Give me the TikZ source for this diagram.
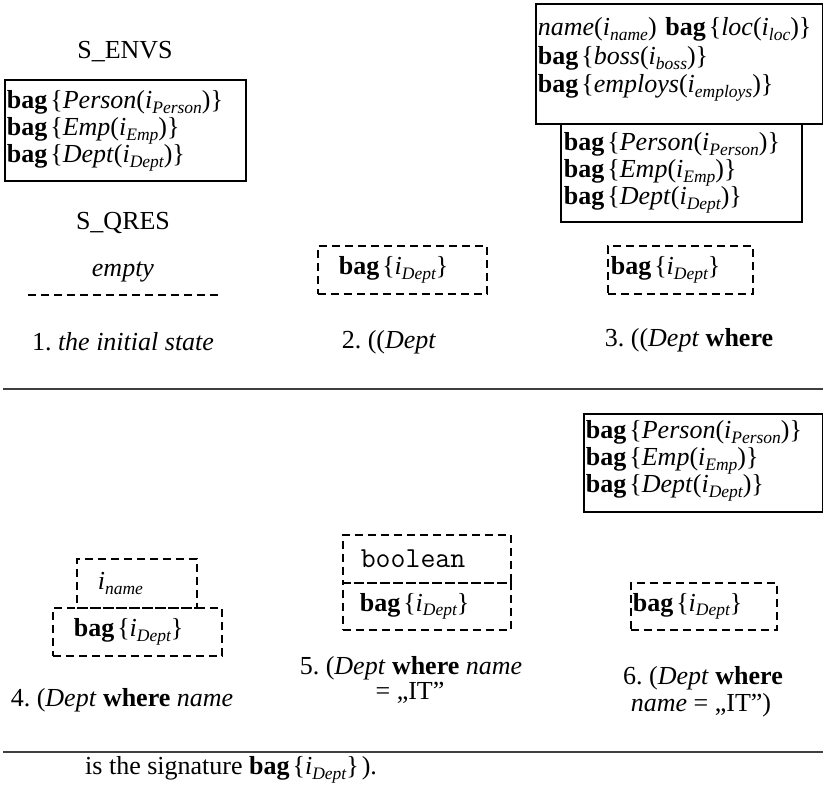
\documentclass[tikz,border=0pt]{standalone}
\usepackage{fontspec}
\setmainfont{Liberation Serif}
\frenchspacing
\newcommand\sbs[1]{\raisebox{-0.18em}{\fontsize{17.5}{17.5}\selectfont\itshape #1}}
\newcommand\ibag[1]{\textbf{bag}\kern3pt\{\textit{#1}(\textit{i}\sbs{#1})\}}
\newcommand\iD{\textbf{bag}\kern3pt\{\textit{i}\sbs{Dept}\}}
\begin{document}
\begin{tikzpicture}[x=1pt,y=-1pt,
  every node/.style={font=\fontsize{26}{27}\selectfont},
  solidbox/.style={draw,line width=1.8pt,anchor=north west,align=left,inner ysep=0pt},
  dbox/.style={draw,line width=1.6pt,dash pattern=on 8pt off 5pt,anchor=north west,align=left,inner ysep=0pt},
  lbl/.style={inner sep=0pt,anchor=center},
  sep/.style={draw=black!75,line width=1.5pt}]
\useasboundingbox (0,0) rectangle (823,789);
\fill[white] (0,0) rectangle (823,789);
% column 1
\node[lbl] (envs) at (125,52) {S\_ENVS};
\node[solidbox,inner xsep=2pt,text width=237pt,text height=29pt,text depth=72pt] (b1) at (4,79)
  {\ibag{Person}\\ \ibag{Emp}\\ \ibag{Dept}};
\node[lbl] (qres) at (123,223) {S\_QRES};
\node[lbl] (empty) at (123,272) {\textit{empty}};
\coordinate (el) at (28,295);
\coordinate (er) at (222,295);
\draw[line width=1.6pt,dash pattern=on 8pt off 5pt] (el) -- (er);
\node[lbl] (c1) at (123,342) {1. \textit{the initial state}};
% column 2
\node[dbox,inner xsep=21pt,text width=127pt,minimum height=48pt] (b2) at (317,245) {\iD};
\node[lbl] (c2) at (389,342) {2. ((\textit{Dept}};
% column 3
\node[solidbox,font=\fontsize{26}{28.5}\selectfont,inner xsep=2pt,text width=283pt,text height=32pt,text depth=88pt] (b3a) at (535,3)
  {\textit{name}(\textit{i}\sbs{name}) \textbf{bag}\kern3pt\{\textit{loc}(\textit{i}\sbs{loc})\}\\
   \ibag{boss}\\ \ibag{employs}};
\node[solidbox,inner xsep=3pt,text width=235pt,text height=27pt,text depth=71pt] (b3b) at (560,123)
  {\ibag{Person}\\ \ibag{Emp}\\ \ibag{Dept}};
\node[dbox,inner xsep=3pt,text width=139pt,minimum height=48pt] (b3c) at (607,245) {\iD};
\node[lbl] (c3) at (689,340) {3. ((\textit{Dept} \textbf{where}};
% separators
\coordinate (s1l) at (3,389);
\coordinate (s1r) at (823,389);
\draw[sep] (s1l) -- (s1r);
\coordinate (s2l) at (3,752);
\coordinate (s2r) at (823,752);
\draw[sep] (s2l) -- (s2r);
% row 2 column 1
\node[dbox,inner xsep=21pt,text width=78pt,minimum height=49pt] (b4a) at (76,558) {\textit{i}\sbs{name}};
\node[dbox,inner xsep=21pt,text width=127pt,minimum height=48pt] (b4b) at (52,607) {\iD};
\node[lbl] (c4) at (122,700) {4. (\textit{Dept} \textbf{where} \textit{name}};
% row 2 column 2
\node[dbox,inner xsep=18pt,text width=132pt,minimum height=48pt] (b5a) at (342,534) {\fontsize{29}{29}\ttfamily boolean};
\node[dbox,inner xsep=17pt,text width=134pt,minimum height=47pt] (b5b) at (342,582) {\iD};
\node[lbl] (c5a) at (411,668) {5. (\textit{Dept} \textbf{where} \textit{name}};
\node[lbl] (c5b) at (410,693) {= „IT”};
% row 2 column 3
\node[solidbox,inner xsep=2pt,text width=235pt,text height=25pt,text depth=73pt] (b6a) at (583,413)
  {\ibag{Person}\\ \ibag{Emp}\\ \ibag{Dept}};
\node[dbox,inner xsep=2pt,text width=142pt,minimum height=47pt] (b6b) at (630,582) {\iD};
\node[lbl] (c6a) at (703,678) {6. (\textit{Dept} \textbf{where}};
\node[lbl] (c6b) at (701,705) {\textit{name} = „IT”)};
% bottom text
\node[inner sep=0pt,anchor=west] (sig) at (85,770) {is the signature \iD\kern3pt).};
\end{tikzpicture}
\end{document}
